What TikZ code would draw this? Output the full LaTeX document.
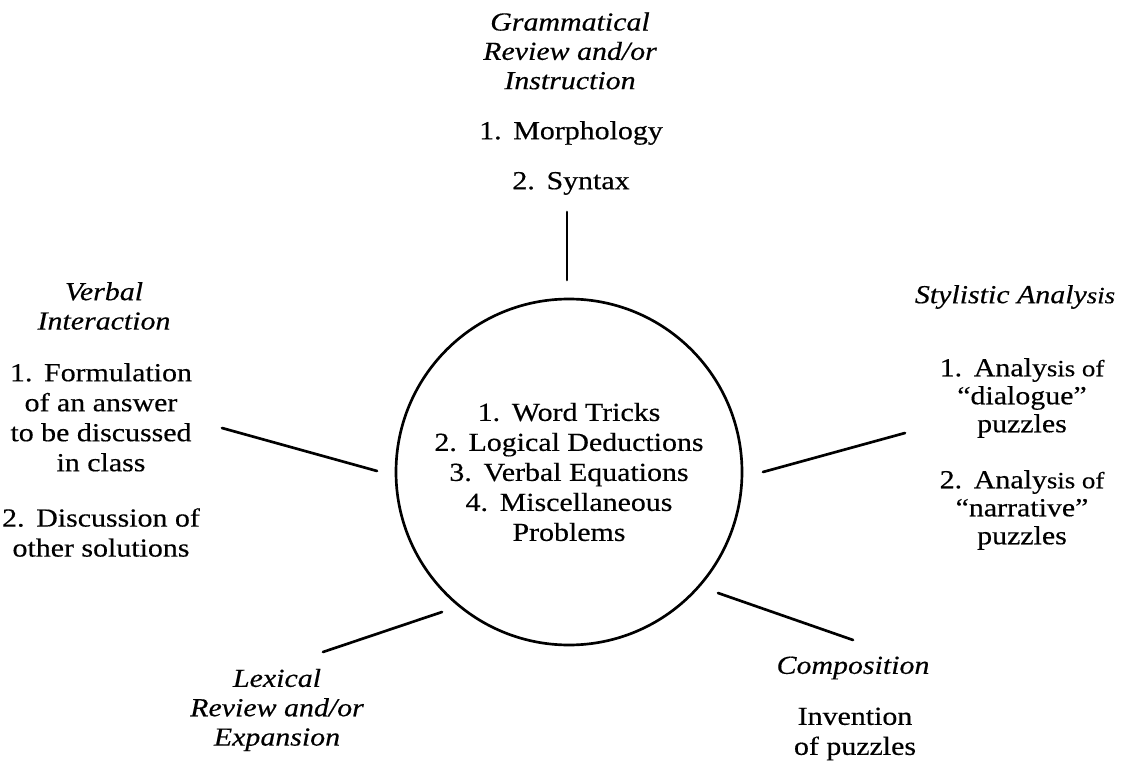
\documentclass[tikz,border=0pt]{standalone}
\usepackage{fontspec}
\setmainfont{Liberation Serif}[FakeStretch=1.15,FakeBold=0.4]
\newcommand\numgap{\hspace{0.45em}}
\newcommand\smallpart[1]{{\fontsize{17.5}{20}\selectfont #1}}
\begin{document}
\begin{tikzpicture}[x=0.75pt,y=-0.75pt]
\tikzset{
  lbl/.style={align=center, inner sep=0pt, font=\fontsize{19.5}{22.5}\selectfont},
  ttl/.style={align=center, inner sep=0pt, font=\fontsize{19.5}{22}\selectfont\itshape},
  link/.style={line width=2pt, line cap=round},
  hub/.style={circle, draw, line width=2pt, minimum size=259.5pt, inner sep=0pt, align=center, font=\fontsize{19.5}{22.5}\selectfont}
}
\useasboundingbox (0,0) rectangle (1124,766);
\fill[white] (0,0) rectangle (1124,766);

% hub
\node[hub] (hub) at (569,472) {1.\numgap Word Tricks\\2.\numgap Logical Deductions\\3.\numgap Verbal Equations\\4.\numgap Miscellaneous\\Problems};

% top group
\node[ttl] (gramT) at (570,51) {Grammatical\\Review and/or\\Instruction};
\node[lbl] (gramL) at (571,158) {1.\numgap Morphology\\[15pt]2.\numgap Syntax};

% left group
\node[ttl] (verbT) at (104,306) {Verbal\\Interaction};
\node[lbl] (verbL) at (101,460) {1.\numgap Formulation\\of an answer\\to be discussed\\in class\\[19pt]2.\numgap Discussion of\\other solutions};

% right group
\node[ttl] (stylT) at (1015,297) {Stylistic Analy\smallpart{sis}};
\node[lbl, font=\fontsize{19.5}{21}\selectfont] (stylL) at (1022,454) {1.\numgap Analy\smallpart{sis of}\\“dialogue”\\puzzles\\[21pt]2.\numgap Analy\smallpart{sis of}\\“narrative”\\puzzles};

% lower left group
\node[ttl] (lexT) at (277,710) {Lexical\\Review and/or\\Expansion};

% lower right group
\node[ttl] (compT) at (853,668) {Composition};
\node[lbl] (compL) at (855,734) {Invention\\of puzzles};

% connector end points
\coordinate (topA) at (567,212);
\coordinate (topB) at (567,280);
\coordinate (leftA) at (222,428);
\coordinate (leftB) at (377,471);
\coordinate (rightA) at (905,433);
\coordinate (rightB) at (763,472);
\coordinate (llA) at (323,652);
\coordinate (llB) at (442,612);
\coordinate (lrA) at (853,640);
\coordinate (lrB) at (718,593);

\draw[link] (topA) -- (topB);
\draw[link] (leftA) -- (leftB);
\draw[link] (rightA) -- (rightB);
\draw[link] (llA) -- (llB);
\draw[link] (lrA) -- (lrB);
\end{tikzpicture}
\end{document}
